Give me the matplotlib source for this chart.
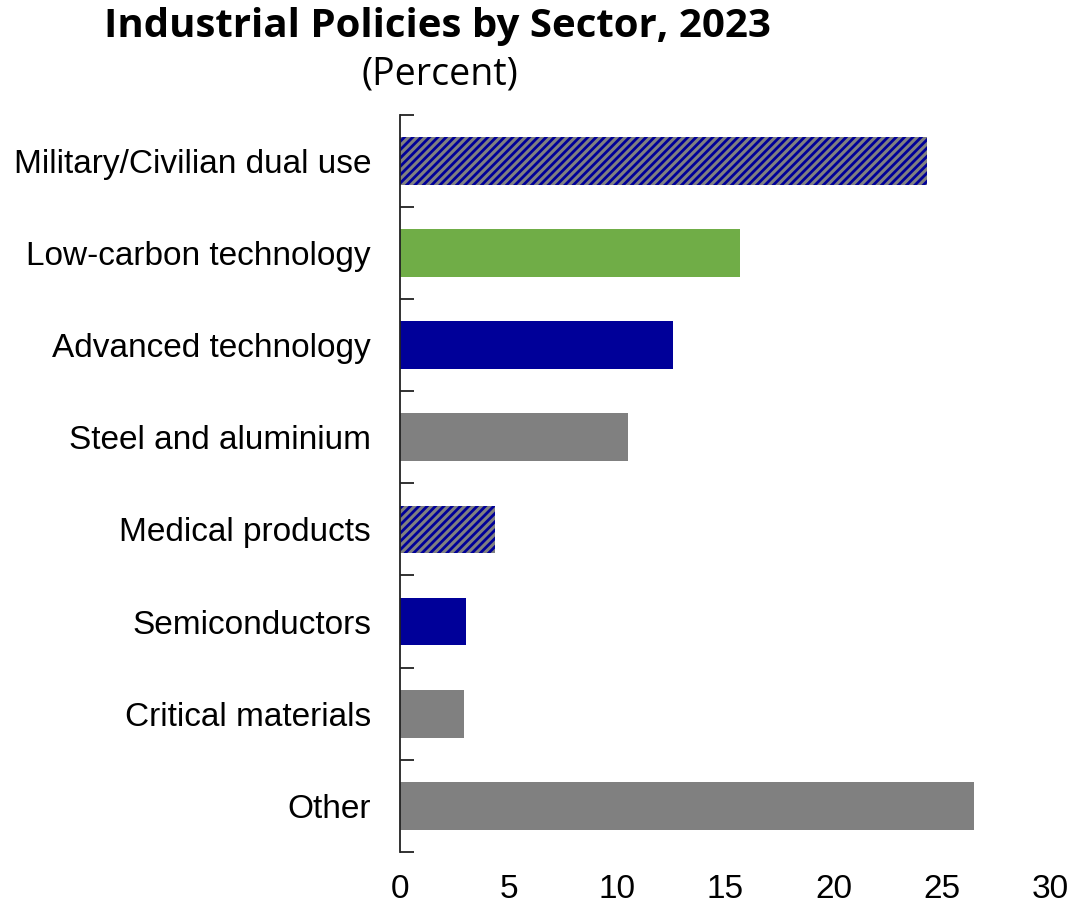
import numpy as np
import matplotlib.pyplot as plt

sectors = ['Military/Civilian dual use', 'Low-carbon technology', 'Advanced technology',
           'Steel and aluminium', 'Medical products', 'Semiconductors',
           'Critical materials', 'Other']
shares = [24.3, 15.7, 12.6, 10.5, 4.35, 3.05, 2.95, 26.5]
# style of each bar: 'hatch' = grey with blue stripes
styles = ['hatch', 'green', 'blue', 'grey', 'hatch', 'blue', 'grey', 'grey']
xticks = [0, 5, 10, 15, 20, 25, 30]

BLUE = '#000099'
GREEN = '#70AD47'
GREY = '#808080'

plt.rcParams['hatch.linewidth'] = 2.0

fig = plt.figure(figsize=(10.76, 9.07), dpi=100)
ax = fig.add_axes([0.372, 0.061, 0.604, 0.812])

y = np.arange(len(sectors))
for i, (v, s) in enumerate(zip(shares, styles)):
    if s == 'hatch':
        ax.barh(y[i], v, height=0.52, color=GREY, edgecolor=BLUE, hatch='////', linewidth=0)
    else:
        c = {'green': GREEN, 'blue': BLUE, 'grey': GREY}[s]
        ax.barh(y[i], v, height=0.52, color=c, linewidth=0)

ax.set_ylim(len(sectors) - 0.5, -0.5)
ax.set_xlim(0, 30)
ax.set_yticks(y)
ax.set_yticklabels(sectors, fontsize=24, family='Liberation Sans')
ax.set_yticks(np.arange(-0.5, len(sectors)), minor=True)
ax.tick_params(axis='y', which='major', length=0, pad=21)
ax.tick_params(axis='y', which='minor', direction='in', length=10, width=1.3, color='#222222')
ax.set_xticks(xticks)
ax.set_xticklabels([str(t) for t in xticks], fontsize=24, family='Liberation Sans')
ax.tick_params(axis='x', length=0, pad=16)
for sp in ['top', 'right', 'bottom']:
    ax.spines[sp].set_visible(False)
ax.spines['left'].set_linewidth(1.3)
ax.spines['left'].set_color('#222222')

fig.text(0.407, 0.992, 'Industrial Policies by Sector, 2023', ha='center', va='top',
         fontsize=29, fontweight='bold', family='Open Sans')
fig.text(0.409, 0.939, '(Percent)', ha='center', va='top', fontsize=27, family='Open Sans')

fig.savefig('out.png', dpi=100)
